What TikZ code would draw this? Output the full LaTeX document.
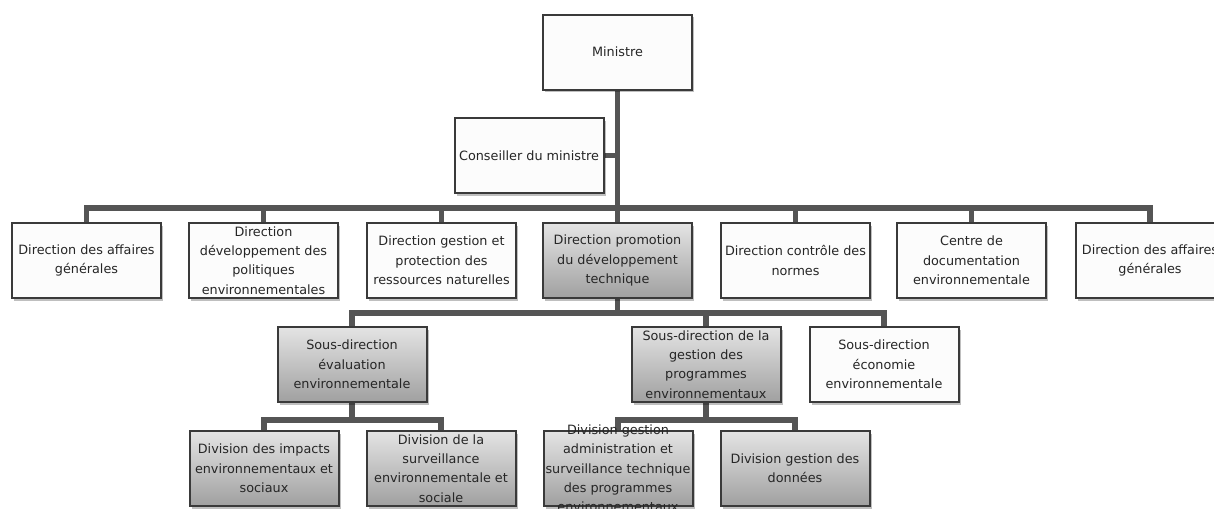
\documentclass[tikz,border=0pt]{standalone}
\usepackage{fontspec}
\setmainfont{DejaVu Sans}
\usetikzlibrary{shadows,backgrounds}
\definecolor{bord}{HTML}{3A3A3A}
\definecolor{conn}{HTML}{555555}
\definecolor{gtop}{HTML}{E4E4E4}
\definecolor{gbot}{HTML}{A0A0A0}
\definecolor{wfill}{HTML}{FCFCFC}
\tikzset{
  box/.style={draw=bord, line width=1.5pt, fill=wfill, minimum width=111.75pt,
    minimum height=56.25pt, inner sep=0pt,
    drop shadow={opacity=0.25, shadow xshift=1.5pt, shadow yshift=-2.2pt, fill=black}},
  gbox/.style={box, top color=gtop, bottom color=gbot},
  lbl/.style={align=center, font=\fontsize{9.6}{14.5}\selectfont, text=black!85, inner sep=0pt},
  link/.style={draw=conn, line width=4pt, line join=miter},
}
\begin{document}
\begin{tikzpicture}[x=0.75pt, y=-0.75pt]
\useasboundingbox (0,0) rectangle (1214,508);
% level 0/1
\node[box] (min) at (617.5,52) {};
\node[lbl] (min-t) at (min) {Ministre};
\node[box] (cons) at (529,155.5) {};
\node[lbl] (cons-t) at (cons) {Conseiller du ministre};
% directions
\node[box] (d1) at (86.5,260.5) {};
\node[lbl] (d1-t) at (d1) {Direction des affaires\\générales};
\node[box] (d2) at (263.5,260.5) {};
\node[lbl] (d2-t) at (d2) {Direction\\développement des\\politiques\\environnementales};
\node[box] (d3) at (441.5,260.5) {};
\node[lbl] (d3-t) at (d3) {Direction gestion et\\protection des\\ressources naturelles};
\node[gbox] (d4) at (617.5,260.5) {};
\node[lbl] (d4-t) at (d4) {Direction promotion\\du développement\\technique};
\node[box] (d5) at (795.5,260.5) {};
\node[lbl] (d5-t) at (d5) {Direction contrôle des\\normes};
\node[box] (d6) at (971.5,260.5) {};
\node[lbl] (d6-t) at (d6) {Centre de\\documentation\\environnementale};
\node[box] (d7) at (1150,260.5) {};
\node[lbl] (d7-t) at (d7) {Direction des affaires\\générales};
% sous-directions
\node[gbox] (s1) at (352,364.5) {};
\node[lbl] (s1-t) at (s1) {Sous-direction\\évaluation\\environnementale};
\node[gbox] (s2) at (706,364.5) {};
\node[lbl] (s2-t) at (s2) {Sous-direction de la\\gestion des\\programmes\\environnementaux};
\node[box] (s3) at (884,364.5) {};
\node[lbl] (s3-t) at (s3) {Sous-direction\\économie\\environnementale};
% divisions
\node[gbox] (v1) at (264,468.5) {};
\node[lbl] (v1-t) at (v1) {Division des impacts\\environnementaux et\\sociaux};
\node[gbox] (v2) at (441,468.5) {};
\node[lbl] (v2-t) at (v2) {Division de la\\surveillance\\environnementale et\\sociale};
\node[gbox] (v3) at (618,468.5) {};
\node[lbl] (v3-t) at (v3) {Division gestion\\administration et\\surveillance technique\\des programmes\\environnementaux};
\node[gbox] (v4) at (795,468.5) {};
\node[lbl] (v4-t) at (v4) {Division gestion des\\données};
% connectors
\coordinate (b2) at (0,208);
\coordinate (b3) at (0,313);
\coordinate (b4) at (0,420);
\begin{scope}[on background layer]
\draw[link] (min.south) -- (min.south |- b2);
\draw[link] (cons.east) -- (cons.east -| min.south);
\draw[link] (d1.north) -- (d1.north |- b2) -- (d7.north |- b2) -- (d7.north);
\foreach \n in {d2,d3,d4,d5,d6}{\draw[link] (\n.north) -- (\n.north |- b2);}
\draw[link] (d4.south) -- (d4.south |- b3);
\draw[link] (s1.north) -- (s1.north |- b3) -- (s3.north |- b3) -- (s3.north);
\draw[link] (s2.north) -- (s2.north |- b3);
\draw[link] (s1.south) -- (s1.south |- b4);
\draw[link] (v1.north) -- (v1.north |- b4) -- (v2.north |- b4) -- (v2.north);
\draw[link] (s2.south) -- (s2.south |- b4);
\draw[link] (v3.north) -- (v3.north |- b4) -- (v4.north |- b4) -- (v4.north);
\end{scope}
\end{tikzpicture}
\end{document}
